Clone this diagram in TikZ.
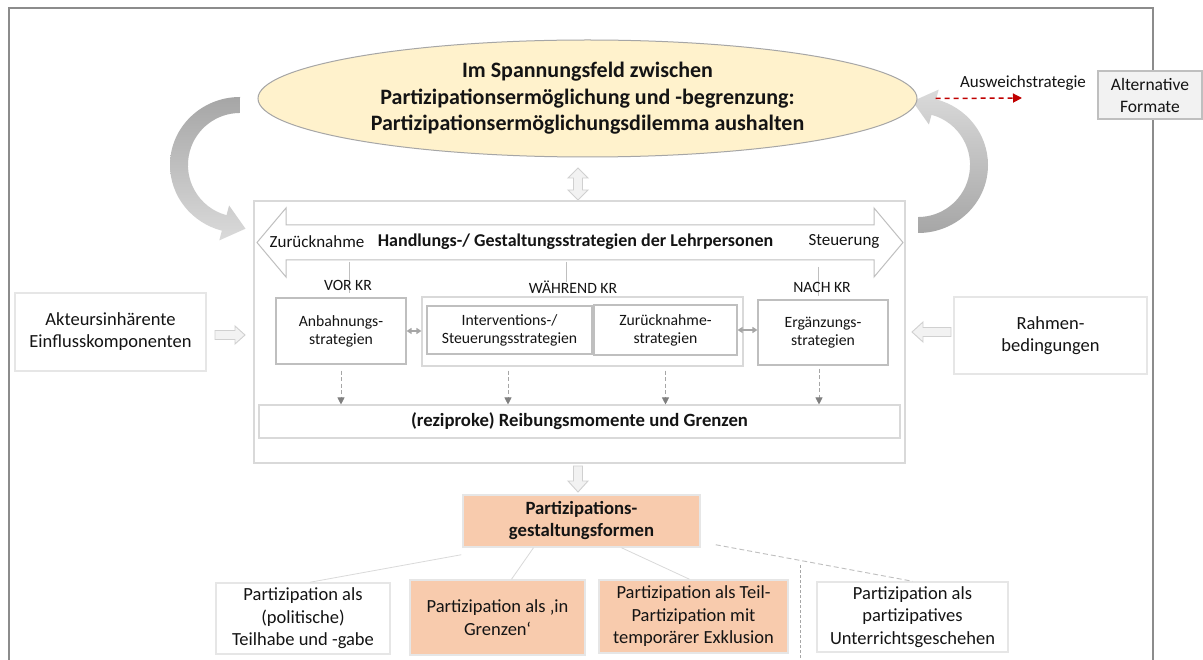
\documentclass[tikz,border=0pt]{standalone}
\usepackage{fontspec}
\setmainfont{Carlito}
\usetikzlibrary{shapes.geometric,arrows.meta}
\definecolor{frameg}{HTML}{8C8C8C}
\definecolor{lineg}{HTML}{BFBFBF}
\definecolor{lightg}{HTML}{D9D9D9}
\definecolor{paleg}{HTML}{E6E6E6}
\definecolor{fillg}{HTML}{F2F2F2}
\definecolor{arrg}{HTML}{D0D0D0}
\definecolor{tipg}{HTML}{7F7F7F}
\definecolor{yell}{HTML}{FFF2CC}
\definecolor{oran}{HTML}{F8CBAD}
\definecolor{dred}{HTML}{C00000}
\definecolor{txt}{HTML}{141414}
\definecolor{cdark}{HTML}{A6A6A6}
\definecolor{clight}{HTML}{DADADA}
\definecolor{cwhite}{HTML}{F4F4F4}
\tikzset{
  every node/.style={text=txt},
  fbox/.style={draw=#1, line width=1.1pt, rectangle, inner sep=0pt, align=center},
  innerbox/.style={fbox=lineg, font=\fontsize{15.7}{18}\selectfont},
  sidebox/.style={fbox=paleg, line width=1.3pt, font=\fontsize{18.5}{22}\selectfont},
  botbox/.style={fbox=paleg, line width=1.5pt, font=\fontsize{18.5}{22.5}\selectfont},
  orbox/.style={botbox, fill=oran},
  lbl/.style={font=\fontsize{15.7}{18}\selectfont, inner sep=0pt},
  blockarr/.style={fill=fillg, draw=arrg, line width=0.9pt},
  dasharr/.style={draw=cdark, line width=0.8pt, dash pattern=on 4pt off 2.5pt, -{Triangle[length=7pt,width=7pt,color=tipg,fill=tipg]}},
  twoarr/.style={draw=cdark, line width=1.2pt, {Triangle[length=5pt,width=6pt,fill=cdark]}-{Triangle[length=5pt,width=6pt,fill=cdark]}},
  thinline/.style={draw=lineg, line width=0.7pt},
  treeline/.style={draw=lightg, line width=0.8pt},
  reddash/.style={draw=dred, line width=1.5pt, dash pattern=on 5pt off 4pt, -{Triangle[length=9pt,width=9pt,fill=dred]}}
}
\begin{document}
\begin{tikzpicture}[x=1pt,y=-1pt]
\useasboundingbox (0,0) rectangle (1203,660);
\fill[white] (0,0) rectangle (1203,660);

% outer frame
\draw[frameg, line width=1.3pt] (9,670) -- (9,8) -- (1153,8) -- (1153,670);

% curved arrows
\shade[top color=cdark, middle color=cwhite, bottom color=clight]
  (240,97) arc[start angle=270, end angle=105, x radius=70, y radius=68]
  -- (219.3,240.4) -- (245.5,228.7) -- (229.1,205.5) -- (226.5,215.2)
  arc[start angle=105, end angle=270, radius=52] -- cycle;
\shade[top color=clight, middle color=cwhite, bottom color=cdark]
  (918,233) arc[start angle=90, end angle=-75, x radius=70, y radius=68]
  -- (938.7,89.6) -- (912.5,101.3) -- (928.9,124.5) -- (931.5,114.8)
  arc[start angle=-75, end angle=90, radius=52] -- cycle;

% ellipse
\node[ellipse, draw=cdark, line width=1pt, fill=yell, minimum width=659, minimum height=117,
  inner sep=0pt, align=center, font=\bfseries\fontsize{22}{26.5}\selectfont]
  (ell) at (587.5,98.5) {Im Spannungsfeld zwischen\\Partizipationsermöglichung und -begrenzung:\\Partizipationsermöglichungsdilemma aushalten};

% Ausweichstrategie
\node[font=\fontsize{17}{20}\selectfont, inner sep=0pt] (aus) at (1023,83) {Ausweichstrategie};
\coordinate (ausend) at (1022,98);
\draw[reddash] ([xshift=18pt]ell.east) -- (ausend);
\node[fbox=lineg, fill=fillg, minimum width=104, minimum height=48, font=\fontsize{17.5}{22}\selectfont]
  (alt) at (1150,95) {Alternative\\Formate};

% up-down block arrow
\draw[blockarr] (578,168) -- (588,178) -- (582.5,178) -- (582.5,190) -- (588,190) -- (578,200)
  -- (568,190) -- (573.5,190) -- (573.5,178) -- (568,178) -- cycle;

% main box
\node[fbox=lightg, minimum width=651, minimum height=262] (main) at (579.5,332) {};

% big double arrow
\draw[fill=white, draw=lineg, line width=1pt] (257,242.5) -- (286,208) -- (286,225) -- (874,225) -- (874,208)
  -- (903,242.5) -- (874,277) -- (874,260) -- (286,260) -- (286,277) -- cycle;
\node[font=\fontsize{17}{20}\selectfont, inner sep=0pt] (zr) at (317,242) {Zurücknahme};
\node[font=\bfseries\fontsize{18}{21}\selectfont, inner sep=0pt] (hg) at (575.5,242) {Handlungs-/ Gestaltungsstrategien der Lehrpersonen};
\node[font=\fontsize{17}{20}\selectfont, inner sep=0pt] (st) at (844,241) {Steuerung};

% phase labels and ticks
\draw[thinline] (349,262) -- (349,293);
\draw[thinline] (566,262) -- (566,282);
\draw[thinline] (818,267) -- (818,296);
\node[lbl] (vor) at (348,285) {VOR KR};
\node[lbl] (wae) at (573,287) {WÄHREND KR};
\node[lbl] (nach) at (822,287) {NACH KR};

% strategy boxes
\node[innerbox, minimum width=130, minimum height=66] (anb) at (341,331) {Anbahnungs-\\strategien};
\node[fbox=lightg, minimum width=321, minimum height=69] (waehr) at (582.5,331.5) {};
\node[innerbox, minimum width=165, minimum height=48] (interv) at (509.5,330) {Interventions-/\\Steuerungsstrategien};
\node[innerbox, minimum width=143, minimum height=50] (zur) at (665.5,330) {Zurücknahme-\\strategien};
\node[innerbox, minimum width=130, minimum height=65] (erg) at (823,332.5) {Ergänzungs-\\strategien};

\draw[twoarr] (anb.east) -- (anb.east -| waehr.west);
\draw[twoarr] (zur.east) -- (zur.east -| erg.west);

% friction box
\node[fbox=lightg, minimum width=641, minimum height=33, font=\bfseries\fontsize{18.7}{21}\selectfont]
  (reib) at (579.5,421.5) {(reziproke) Reibungsmomente und Grenzen};

\draw[dasharr] ([yshift=-6pt]anb.south) -- (anb.south |- reib.north);
\draw[dasharr] ([xshift=-1.5pt,yshift=-4pt]interv.south |- waehr.south) -- ([xshift=-1.5pt]interv.south |- reib.north);
\draw[dasharr] ([yshift=-4pt]zur.south |- waehr.south) -- (zur.south |- reib.north);
\draw[dasharr] ([xshift=-4pt,yshift=-3pt]erg.south) -- ([xshift=-4pt]erg.south |- reib.north);

% side boxes
\node[sidebox, minimum width=191, minimum height=78] (akt) at (110.5,332) {Akteursinhärente\\Einflusskomponenten};
\node[sidebox, minimum width=193, minimum height=77] (rah) at (1050.5,335.5) {Rahmen-\\bedingungen};
\draw[blockarr] (215,330.5) -- (235,330.5) -- (235,326) -- (245,335) -- (235,344) -- (235,339.5) -- (215,339.5) -- cycle;
\draw[blockarr] (951,327.5) -- (923,327.5) -- (923,322) -- (912,332) -- (923,342) -- (923,336.5) -- (951,336.5) -- cycle;

% down block arrow
\draw[blockarr] (573.5,466) -- (582.5,466) -- (582.5,481) -- (588,481) -- (578,492) -- (568,481) -- (573.5,481) -- cycle;

% participation forms
\node[orbox, font=\bfseries\fontsize{18.7}{22}\selectfont, minimum width=237, minimum height=52] (pform) at (581.5,521) {Partizipations-\\gestaltungsformen};
\node[botbox, minimum width=174, minimum height=71] (pol) at (303,618.5) {Partizipation als\\(politische)\\Teilhabe und -gabe};
\node[orbox, minimum width=175, minimum height=75] (grenz) at (497.5,617.5) {Partizipation als ‚in\\Grenzen‘};
\node[orbox, minimum width=189, minimum height=73] (teil) at (693.5,616.5) {Partizipation als Teil-\\Partizipation mit\\temporärer Exklusion};
\node[botbox, minimum width=191, minimum height=70] (unter) at (912.5,617) {Partizipation als\\partizipatives\\Unterrichtsgeschehen};

\draw[treeline] ([xshift=-1pt,yshift=-7pt]pform.south west) -- ([xshift=7pt]pol.north);
\draw[treeline] ([xshift=-48pt]pform.south) -- ([xshift=14pt]grenz.north);
\draw[treeline] ([xshift=40pt]pform.south) -- ([xshift=-4pt]teil.north);
\draw[draw=lineg, line width=0.9pt, dash pattern=on 5pt off 3pt] ([xshift=15pt,yshift=3pt]pform.south east) -- (unter.north);
\coordinate (vtop) at (800,565);
\coordinate (vbot) at (800,661);
\draw[draw=cdark, line width=0.9pt, dash pattern=on 3pt off 2pt] (vtop) -- (vbot);
\end{tikzpicture}
\end{document}
